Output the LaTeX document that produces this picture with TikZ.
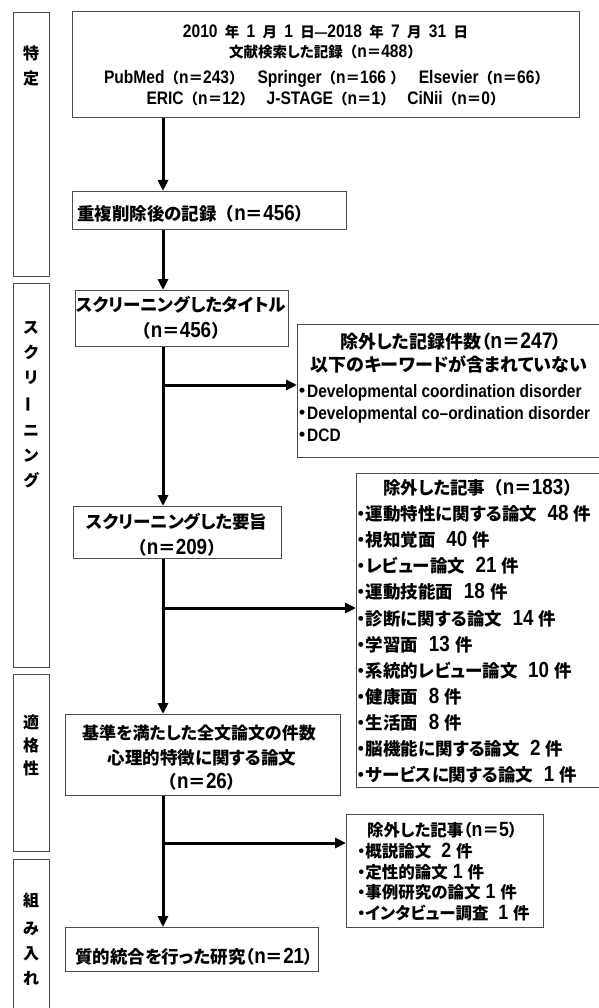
\documentclass[tikz,border=0pt]{standalone}
\usepackage{fontspec}
\usepackage{graphicx}
\usetikzlibrary{arrows.meta}
\newfontfamily\jpf{Noto Sans CJK JP}[RawFeature=+palt]
\newfontfamily\jpw{Noto Sans CJK JP}
\newfontfamily\latf{Liberation Sans}[FakeStretch=0.86]
\newfontfamily\latw{Liberation Sans}[FakeStretch=0.86,Scale=1.25]
\newcommand\ltn[1]{{\latf\bfseries #1}}
\newcommand\ltw[1]{{\latw\bfseries #1}}
\newcommand\fwp[1]{{\jpw （}\ltw{n}{\jpw ＝}\ltw{#1}{\jpw ）}}
\newcommand\hwp[1]{（\ltw{n}{\jpw ＝}\ltw{#1}）}
\newcommand\gp{\hspace{7.3pt}}
\newcommand\fl{\hspace{0pt plus 1fil}}
\begin{document}
\begin{tikzpicture}[x=1pt,y=-1pt,
  box/.style={draw=black!70, line width=1pt, inner sep=0, anchor=north west},
  stage/.style={draw=black!70, line width=1pt},
  t/.style={inner sep=0, anchor=base, font=\jpf\bfseries\fontsize{#1}{#1}\selectfont},
  tl/.style={inner sep=0, anchor=base west, font=\jpf\bfseries\fontsize{#1}{#1}\selectfont},
  arr/.style={line width=3pt, -{Triangle[length=11pt,width=10pt]}}]
\useasboundingbox (0,0) rectangle (598,1008);
% stage boxes
\node[box, minimum width=36pt, minimum height=264pt] (s1) at (13,12) {};
\node[box, minimum width=36pt, minimum height=384pt] (s2) at (13,283) {};
\node[box, minimum width=36pt, minimum height=177pt] (s3) at (13,674) {};
\draw[stage] (13,1012) -- (13,859) -- (49,859) -- (49,1012);
% stage labels
\node[t=16] (l11) at (31,59.1) {特};
\node[t=16] (l12) at (31,84.1) {定};
\node[t=16] (l21) at (31,333.1) {ス};
\node[t=16] (l22) at (31,358.1) {ク};
\node[t=16] (l23) at (31,383.1) {リ};
\node[t=16] (l24) at (31,408.1) {\rotatebox[origin=c]{90}{ー}};
\node[t=16] (l25) at (31,436.1) {ニ};
\node[t=16] (l26) at (31,461.1) {ン};
\node[t=16] (l27) at (31,486.1) {グ};
\node[t=16] (l31) at (31,728.1) {適};
\node[t=16] (l32) at (31,751.1) {格};
\node[t=16] (l33) at (31,774.1) {性};
\node[t=16] (l41) at (31,906.1) {組};
\node[t=16] (l42) at (31,934.1) {み};
\node[t=16] (l43) at (31,959.1) {入};
\node[t=16] (l44) at (31,984.1) {れ};
% main boxes
\node[box, minimum width=507pt, minimum height=106pt] (top) at (72,11) {};
\node[box, minimum width=274pt, minimum height=38pt] (b2) at (72,191) {};
\node[box, minimum width=213pt, minimum height=56pt] (b3) at (75,290) {};
\node[box, minimum width=208pt, minimum height=52pt] (b4) at (73,506) {};
\node[box, minimum width=275pt, minimum height=81pt] (b5) at (65,714) {};
\node[box, minimum width=253pt, minimum height=44pt] (b6) at (65,927) {};
\node[box, minimum width=320pt, minimum height=133pt] (e1) at (297,324) {};
\node[box, minimum width=260pt, minimum height=314pt] (e2) at (356,473) {};
\node[box, minimum width=197pt, minimum height=113pt] (e3) at (346,814) {};
% top box text
\node[t=14.5] (tt1) at (325.5,37.3) {\ltw{2010}\gp 年\gp\ltw{1}\gp 月\gp\ltw{1}\gp 日\ltn{—}\ltw{2018}\gp 年\gp\ltw{7}\gp 月\gp\ltw{31}\gp 日};
\node[t=14.5] (tt2) at (325.5,57.3) {文献検索した記録\fwp{488}};
\node[t=14.5] (tt3) at (326.5,83.3) {\hbox to 445pt{\ltw{PubMed}\fwp{243}\fl\ltw{Springer}\fwp{166\ }\fl\ltw{Elsevier}\fwp{66}}};
\node[t=14.5] (tt4) at (325.5,104.3) {\hbox to 358pt{\ltw{ERIC}\fwp{12}\fl\ltw{J-STAGE}\fwp{1}\fl\ltw{CiNii}\fwp{0}}};
% box texts
\node[tl=17.5] (t2) at (77,220.6) {重複削除後の記録\fwp{456}};
\node[t=17.5] (t31) at (181,311.6) {スクリーニングしたタイトル};
\node[t=17.5] (t32) at (181,337.6) {\fwp{456}};
\node[t=17.5] (t41) at (177,528.6) {スクリーニングした要旨};
\node[t=17.5] (t42) at (177,554.6) {\fwp{209}};
\node[t=17] (t51) at (199,739.6) {基準を満たした全文論文の件数};
\node[t=17.5] (t52) at (202,764.6) {心理的特徴に関する論文};
\node[t=17.5] (t53) at (202,788.6) {\fwp{26}};
\node[tl=17.5] (t6) at (75,963.6) {質的統合を行った研究\hwp{21}};
% exclusion 1
\node[t=18] (e11) at (451,348.8) {除外した記録件数\hwp{247}};
\node[t=18] (e12) at (449,371.8) {以下のキーワードが含まれていない};
\node[tl=18] (e13) at (298,397.8) {・\ltn{Developmental coordination disorder}};
\node[tl=18] (e14) at (298,419.8) {・\ltn{Developmental co–ordination disorder}};
\node[tl=18] (e15) at (298,441.8) {・\ltn{DCD}};
% exclusion 2
\node[t=17.5] (e21) at (482,494.5) {除外した記事\fwp{183}};
\node[tl=17.5] (e22) at (357,520.5) {・運動特性に関する論文\ltw{\ \ 48 }件};
\node[tl=17.5] (e23) at (357,546.5) {・視知覚面\ltw{\ \ 40 }件};
\node[tl=17.5] (e24) at (357,572.5) {・レビュー論文\ltw{\ \ 21 }件};
\node[tl=17.5] (e25) at (357,598.5) {・運動技能面\ltw{\ \ 18 }件};
\node[tl=17.5] (e26) at (357,625) {・診断に関する論文\ltw{\ \ 14 }件};
\node[tl=17.5] (e27) at (357,651) {・学習面\ltw{\ \ 13 }件};
\node[tl=17.5] (e28) at (357,677) {・系統的レビュー論文\ltw{\ \ 10 }件};
\node[tl=17.5] (e29) at (357,703.5) {・健康面\ltw{\ \ 8 }件};
\node[tl=17.5] (e210) at (357,729.5) {・生活面\ltw{\ \ 8 }件};
\node[tl=17.5] (e211) at (357,755.5) {・脳機能に関する論文\ltw{\ \ 2 }件};
\node[tl=17.5] (e212) at (357,781.5) {・サービスに関する論文\ltw{\ \ 1 }件};
% exclusion 3
\node[tl=16.5] (e31) at (367,836.3) {除外した記事\hwp{5}};
\node[tl=16.5] (e32) at (357,857.3) {・概説論文\ltw{\ \ 2 }件};
\node[tl=16.5] (e33) at (357,878.3) {・定性的論文\ltw{ 1 }件};
\node[tl=16.5] (e34) at (357,898.3) {・事例研究の論文\ltw{ 1 }件};
\node[tl=16.5] (e35) at (357,919.3) {・インタビュー調査\ltw{\ \ 1 }件};
% spine and connectors
\coordinate (sp) at (163,0);
\coordinate (j1) at (163,385);
\coordinate (j2) at (163,608);
\coordinate (j3) at (163,843);
\draw[arr] (top.south -| sp) -- (b2.north -| sp);
\draw[arr] (b2.south -| sp) -- (b3.north -| sp);
\draw[arr] (b3.south -| sp) -- (b4.north -| sp);
\draw[arr] (b4.south -| sp) -- (b5.north -| sp);
\draw[arr] (b5.south -| sp) -- (b6.north -| sp);
\draw[arr] (j1) -- (j1 -| e1.west);
\draw[arr] (j2) -- (j2 -| e2.west);
\draw[arr] (j3) -- (j3 -| e3.west);
\end{tikzpicture}
\end{document}
